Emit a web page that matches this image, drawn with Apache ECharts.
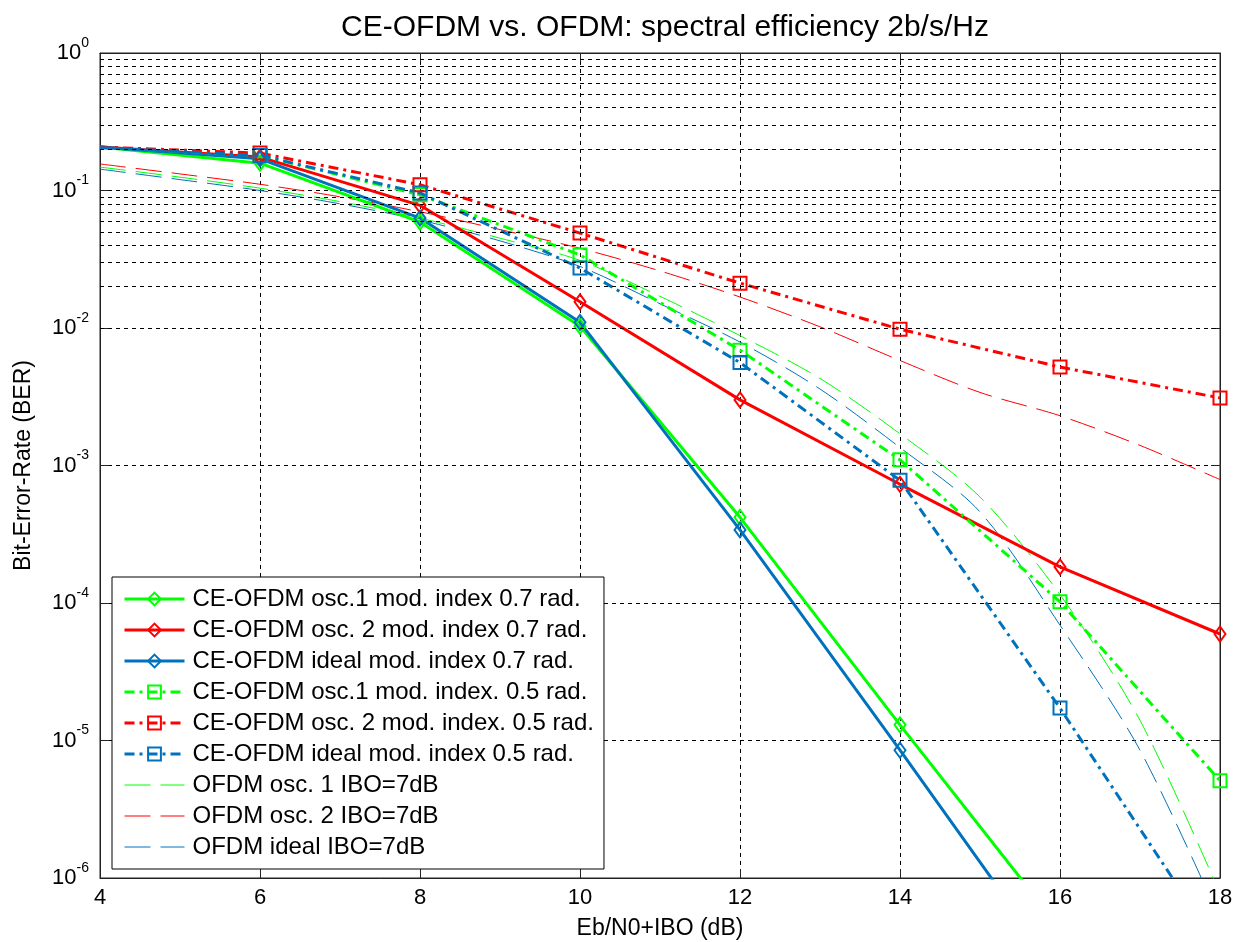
<!DOCTYPE html>
<html>
<head>
<meta charset="utf-8">
<script src="https://cdn.jsdelivr.net/npm/echarts@6/dist/echarts.min.js"></script>
<style>
html, body { margin: 0; padding: 0; background: #fff; overflow: hidden; }
#chart { width: 1234px; height: 942px; }
</style>
</head>
<body>
<div id="chart"></div>
<script>
// Eb/N0+IBO points (dB)
const snrCE = [4, 6, 8, 10, 12, 14, 16, 18];
const snrOFDM = [4, 5, 6, 7, 8, 9, 10, 11, 12, 13, 14, 15, 16, 17, 18];

// CE-OFDM, mod. index 0.7 rad
const ceOsc1_07 = [0.207, 0.158, 0.059, 0.0103, 4.2e-4, 1.3e-5, 4.3e-7];
const ceOsc2_07 = [0.207, 0.175, 0.078, 0.0155, 0.003, 7.3e-4, 1.83e-4, 5.95e-5];
const ceIdeal_07 = [0.207, 0.17, 0.063, 0.011, 3.4e-4, 8.5e-6, 2e-7];
// CE-OFDM, mod. index 0.5 rad
const ceOsc1_05 = [0.205, 0.18, 0.093, 0.034, 0.0069, 0.0011, 1.02e-4, 5.1e-6];
const ceOsc2_05 = [0.207, 0.187, 0.11, 0.049, 0.0212, 0.0098, 0.0052, 0.0031];
const ceIdeal_05 = [0.205, 0.18, 0.096, 0.0273, 0.0056, 7.8e-4, 1.72e-5, 3e-7];
// OFDM, IBO = 7dB
const ofdmOsc1 = [0.148, 0.125, 0.104, 0.083, 0.063, 0.045, 0.031, 0.017, 0.0088, 0.0043, 0.0017, 5.9e-4, 1.15e-4, 1.4e-5, 7.7e-7];
const ofdmOsc2 = [0.156, 0.132, 0.111, 0.09, 0.07, 0.052, 0.038, 0.026, 0.0168, 0.0102, 0.0058, 0.0034, 0.0023, 0.0014, 7.9e-4];
const ofdmIdeal = [0.143, 0.12, 0.1, 0.08, 0.061, 0.043, 0.028, 0.015, 0.0079, 0.0036, 0.00135, 4.6e-4, 6.9e-5, 8.5e-6, 5e-7];

const xTicks = [4, 6, 8, 10, 12, 14, 16, 18];
const decadeExps = [-6, -5, -4, -3, -2, -1];
const minorMult = [2, 3, 4, 5, 6, 7, 8, 9];

const GREEN = '#00ff00', RED = '#ff0000', BLUE = '#0072bd';
const FONT = 'Liberation Sans, Arial, sans-serif';
const DASHDOT = [10, 5, 3, 5];
const DASHED = [26, 10];

const minorLines = [];
decadeExps.forEach(e => minorMult.forEach(m => minorLines.push({ yAxis: m * Math.pow(10, e) })));

function ceSeries(name, vals, color, symbol, dashdot) {
  return {
    name, type: 'line', color,
    // marker at the left axis edge is clipped away in the original
    data: vals.map((v, i) => i === 0 ? { value: [snrCE[i], v], symbol: 'none' } : [snrCE[i], v]),
    symbol, symbolSize: symbol === 'diamond' ? [11, 15] : 13,
    showAllSymbol: true,
    lineStyle: { color, width: 3, type: dashdot ? DASHDOT : 'solid' },
    itemStyle: { color: 'rgba(255,255,255,0)', borderColor: color, borderWidth: 2 },
    clip: true, z: 4
  };
}
function ofdmSeries(name, vals, color) {
  return {
    name, type: 'line', color,
    data: vals.map((v, i) => [snrOFDM[i], v]),
    symbol: 'none', smooth: 0.3,
    lineStyle: { color, width: 1, type: DASHED },
    clip: true, z: 3
  };
}

const series = [
  {
    name: 'grid', type: 'line', data: [], z: 1, silent: true,
    markLine: {
      silent: true, symbol: ['none', 'none'], label: { show: false },
      lineStyle: { color: '#000', width: 1, type: [4, 4] },
      data: minorLines
    }
  },
  ceSeries('CE-OFDM osc.1 mod. index 0.7 rad.', ceOsc1_07, GREEN, 'diamond', false),
  ceSeries('CE-OFDM osc. 2 mod. index 0.7 rad.', ceOsc2_07, RED, 'diamond', false),
  ceSeries('CE-OFDM ideal mod. index 0.7 rad.', ceIdeal_07, BLUE, 'diamond', false),
  ceSeries('CE-OFDM osc.1 mod. index. 0.5 rad.', ceOsc1_05, GREEN, 'rect', true),
  ceSeries('CE-OFDM osc. 2 mod. index. 0.5 rad.', ceOsc2_05, RED, 'rect', true),
  ceSeries('CE-OFDM ideal mod. index 0.5 rad.', ceIdeal_05, BLUE, 'rect', true),
  ofdmSeries('OFDM osc. 1 IBO=7dB', ofdmOsc1, GREEN),
  ofdmSeries('OFDM osc. 2 IBO=7dB', ofdmOsc2, RED),
  ofdmSeries('OFDM ideal IBO=7dB', ofdmIdeal, BLUE)
];

const legendData = series.slice(1).map(s => {
  if (s.symbol === 'none') {
    return { name: s.name, lineStyle: { width: 1, type: DASHED }, itemStyle: { opacity: 0 } };
  }
  return { name: s.name, lineStyle: { width: 3, type: s.lineStyle.type } };
});

const chart = echarts.init(document.getElementById('chart'), null, { width: 1234, height: 942 });
chart.setOption({
  animation: false,
  backgroundColor: '#fff',
  textStyle: { fontFamily: FONT, color: '#000' },
  title: {
    text: 'CE-OFDM vs. OFDM: spectral efficiency 2b/s/Hz',
    left: 660, top: 8, textAlign: 'center',
    textStyle: { fontFamily: FONT, fontSize: 30, fontWeight: 'normal', color: '#000' }
  },
  grid: {
    left: 100, top: 53, width: 1120, height: 825,
    outerBoundsMode: 'none', containLabel: false,
    show: true, borderColor: '#222', borderWidth: 1
  },
  legend: {
    data: legendData,
    orient: 'vertical', left: 112, top: 577,
    padding: [10, 10, 10, 11],
    itemWidth: 60, itemHeight: 16, itemGap: 7,
    selectedMode: false,
    backgroundColor: '#fff', borderColor: '#000', borderWidth: 1,
    textStyle: { fontFamily: FONT, fontSize: 24, lineHeight: 24, color: '#000', padding: [0, 0, 0, 3] }
  },
  xAxis: [{
    type: 'value', min: xTicks[0], max: xTicks[xTicks.length - 1], interval: 2,
    name: 'Eb/N0+IBO (dB)', nameLocation: 'middle', nameGap: 39,
    nameTextStyle: { fontFamily: FONT, fontSize: 23, color: '#000' },
    axisLine: { lineStyle: { color: '#222' } },
    axisTick: { inside: true, length: 9, lineStyle: { color: '#222' } },
    axisLabel: { fontFamily: FONT, fontSize: 22, color: '#000', margin: 9 },
    splitLine: { show: true, lineStyle: { color: '#000', type: [4, 4] } }
  }, {
    type: 'value', position: 'top', min: xTicks[0], max: xTicks[xTicks.length - 1], interval: 2,
    axisLine: { lineStyle: { color: '#222' } },
    axisTick: { inside: true, length: 9, lineStyle: { color: '#222' } },
    axisLabel: { show: false }, splitLine: { show: false }
  }],
  yAxis: [{
    type: 'log', logBase: 10, min: 1e-6, max: 1, splitNumber: 6,
    name: 'Bit-Error-Rate (BER)', nameLocation: 'middle', nameGap: 65,
    nameTextStyle: { fontFamily: FONT, fontSize: 23, color: '#000' },
    axisLine: { lineStyle: { color: '#222' } },
    axisTick: { inside: true, length: 9, lineStyle: { color: '#222' } },
    axisLabel: {
      margin: 11, color: '#000',
      formatter: v => '{b|10}{s|' + Math.round(Math.log10(v)) + '}',
      rich: {
        b: { fontFamily: FONT, fontSize: 22, color: '#000' },
        s: { fontFamily: FONT, fontSize: 14, color: '#000', padding: [0, 0, 20, 0] }
      }
    },
    splitLine: { show: true, lineStyle: { color: '#000', type: [4, 4] } }
  }, {
    type: 'log', logBase: 10, min: 1e-6, max: 1, splitNumber: 6, position: 'right',
    axisLine: { lineStyle: { color: '#222' } },
    axisTick: { inside: true, length: 9, lineStyle: { color: '#222' } },
    axisLabel: { show: false }, splitLine: { show: false }
  }],
  series
});
</script>
</body>
</html>
